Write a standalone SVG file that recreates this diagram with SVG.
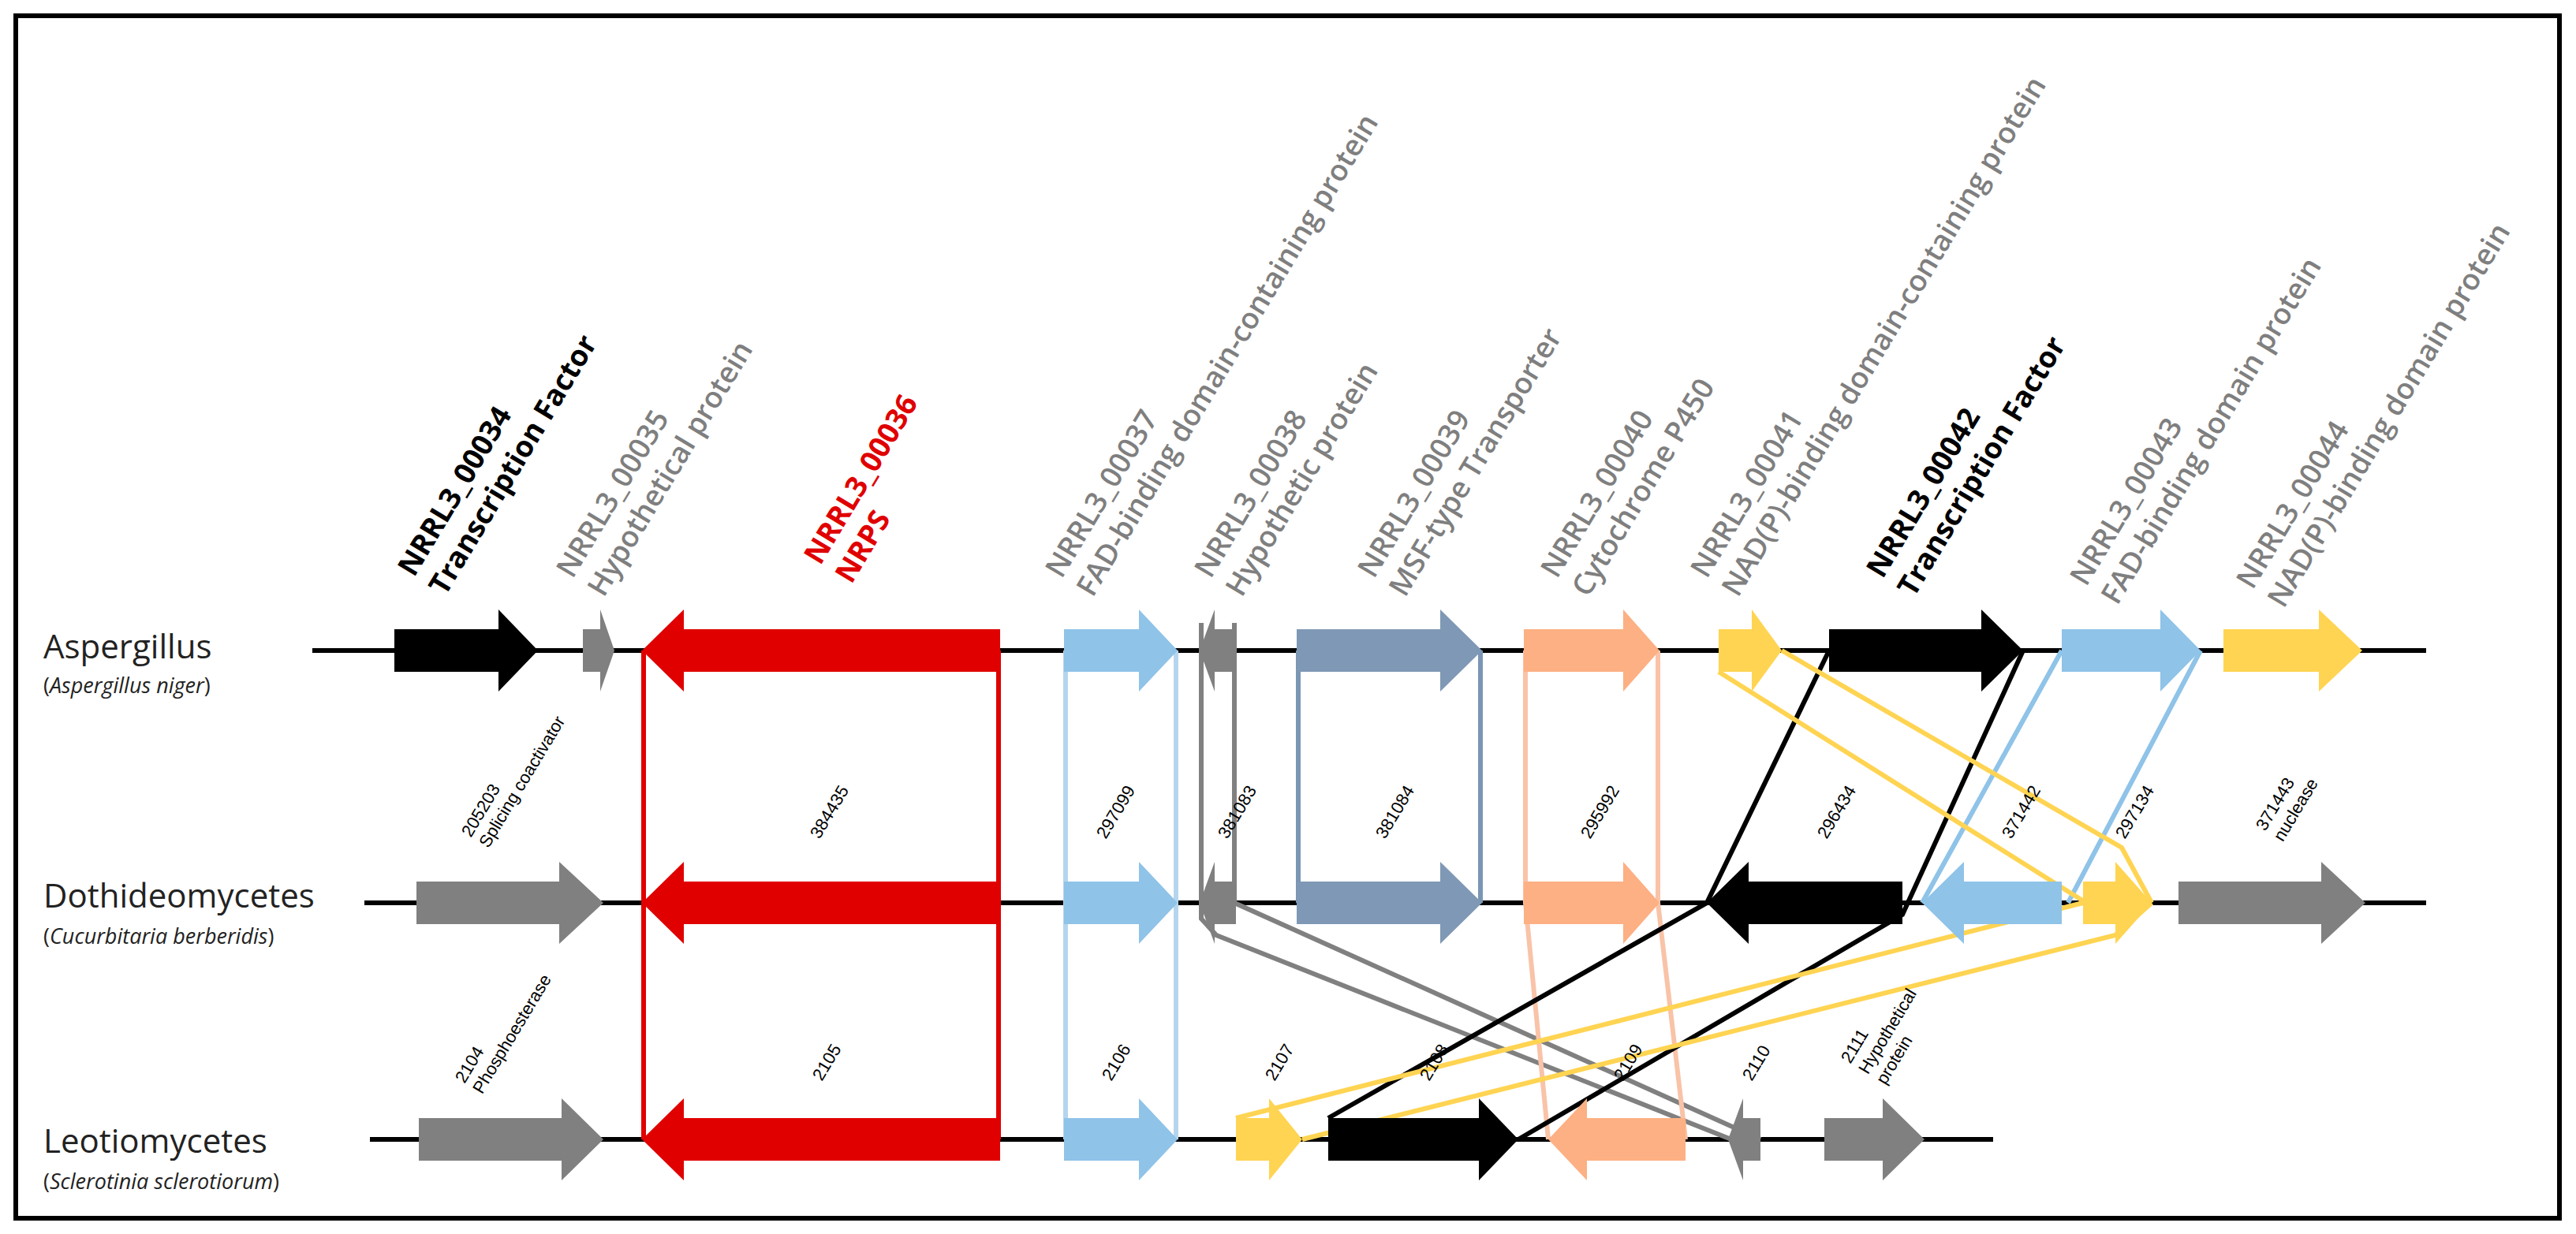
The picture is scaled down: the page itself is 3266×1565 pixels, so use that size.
<svg xmlns="http://www.w3.org/2000/svg" width="3266" height="1565" viewBox="0 0 3266 1565">
<style>
.bd{fill:none;stroke:#000;stroke-width:6}
.ln{stroke:#000;stroke-width:6}
.sp{font-family:"Open Sans",sans-serif;font-size:42px;fill:#222}
.sub{font-family:"Open Sans",sans-serif;font-size:27px;fill:#222}
.tl{font-family:"Open Sans",sans-serif;font-size:37px;font-weight:600;fill:#7f7f7f}
.tb{font-family:"Open Sans",sans-serif;font-size:37px;font-weight:bold;fill:#000}
.tr{font-family:"Open Sans",sans-serif;font-size:37px;font-weight:bold;fill:#e00000}
.sm{font-family:"Liberation Sans",sans-serif;font-size:22px;fill:#000}
.c{fill:none;stroke-width:6}
</style>
<rect x="20" y="20" width="3225" height="1525" class="bd"/>
<g id="tracks">
<line x1="396" y1="825" x2="3076" y2="825" class="ln"/>
<line x1="462" y1="1145" x2="3076" y2="1145" class="ln"/>
<line x1="469" y1="1445" x2="2527" y2="1445" class="ln"/>
</g>
<g id="species">
<text class="sp" x="55" y="835">Aspergillus</text>
<text class="sub" x="55" y="879">(<tspan font-style="italic">Aspergillus niger</tspan>)</text>
<text class="sp" x="55" y="1151">Dothideomycetes</text>
<text class="sub" x="55" y="1197">(<tspan font-style="italic">Cucurbitaria berberidis</tspan>)</text>
<text class="sp" x="55" y="1462">Leotiomycetes</text>
<text class="sub" x="55" y="1508">(<tspan font-style="italic">Sclerotinia sclerotiorum</tspan>)</text>
</g>
<g id="connectors">
<line x1="816" y1="825" x2="816" y2="1445" class="c" stroke="#e00000"/>
<line x1="1266" y1="825" x2="1266" y2="1445" class="c" stroke="#e00000"/>
<line x1="1351" y1="825" x2="1351" y2="1445" class="c" stroke="#b5d5ee"/>
<line x1="1491" y1="825" x2="1491" y2="1445" class="c" stroke="#b5d5ee"/>
<polyline points="1523,790 1523,1165 1542,1186 2195,1445" class="c" stroke="#808080"/>
<polyline points="1565,790 1565,1145 2232,1445" class="c" stroke="#808080"/>
<line x1="1646" y1="825" x2="1646" y2="1145" class="c" stroke="#7a96b4"/>
<line x1="1877" y1="825" x2="1877" y2="1145" class="c" stroke="#7a96b4"/>
<polyline points="1934,825 1934,1145 1963,1445" class="c" stroke="#f9c3a8"/>
<polyline points="2102,825 2102,1145 2137,1445" class="c" stroke="#f9c3a8"/>
<polyline points="2319,825 2164,1145 1684,1418" class="c" stroke="#000"/>
<polyline points="2565,825 2412,1160 1925,1445" class="c" stroke="#000"/>
<line x1="2614" y1="825" x2="2437" y2="1145" class="c" stroke="#8fc3e8"/>
<line x1="2790" y1="825" x2="2622" y2="1145" class="c" stroke="#8fc3e8"/>
<polyline points="2259,825 2690,1075 2728,1145" class="c" stroke="#ffd452"/>
<line x1="2179" y1="852" x2="2645" y2="1145" class="c" stroke="#ffd452"/>
<polyline points="2728,1145 2682,1186 1651,1445" class="c" stroke="#ffd452"/>
<line x1="2641" y1="1145" x2="1567" y2="1418" class="c" stroke="#ffd452"/>
</g>
<g id="genes-aspergillus">
<polygon fill="#000" points="500,798 632,798 632,773 682,825 632,877 632,852 500,852"/>
<polygon fill="#808080" points="739,798 761,798 761,773 779,825 761,877 761,852 739,852"/>
<polygon fill="#e00000" points="814,825 867,773 867,798 1268,798 1268,852 867,852 867,877"/>
<polygon fill="#8fc3e8" points="1349,798 1444,798 1444,773 1493,825 1444,877 1444,852 1349,852"/>
<polygon fill="#808080" points="1521,825 1540,773 1540,798 1567,798 1567,852 1540,852 1540,877"/>
<polygon fill="#7f98b5" points="1644,798 1826,798 1826,773 1879,825 1826,877 1826,852 1644,852"/>
<polygon fill="#fdb083" points="1932,798 2058,798 2058,773 2104,825 2058,877 2058,852 1932,852"/>
<polygon fill="#ffd452" points="2179,798 2221,798 2221,773 2259,825 2221,877 2221,852 2179,852"/>
<polygon fill="#000" points="2319,798 2512,798 2512,773 2565,825 2512,877 2512,852 2319,852"/>
<polygon fill="#8fc3e8" points="2614,798 2739,798 2739,773 2790,825 2739,877 2739,852 2614,852"/>
<polygon fill="#ffd452" points="2819,798 2940,798 2940,773 2995,825 2940,877 2940,852 2819,852"/>
</g>
<g id="genes-dothideomycetes">
<polygon fill="#808080" points="528,1118 709,1118 709,1093 765,1145 709,1197 709,1172 528,1172"/>
<polygon fill="#e00000" points="814,1145 867,1093 867,1118 1268,1118 1268,1172 867,1172 867,1197"/>
<polygon fill="#8fc3e8" points="1349,1118 1444,1118 1444,1093 1493,1145 1444,1197 1444,1172 1349,1172"/>
<polygon fill="#808080" points="1521,1145 1540,1093 1540,1118 1567,1118 1567,1172 1540,1172 1540,1197"/>
<polygon fill="#7f98b5" points="1644,1118 1826,1118 1826,1093 1879,1145 1826,1197 1826,1172 1644,1172"/>
<polygon fill="#fdb083" points="1932,1118 2058,1118 2058,1093 2104,1145 2058,1197 2058,1172 1932,1172"/>
<polygon fill="#000" points="2164,1145 2217,1093 2217,1118 2412,1118 2412,1172 2217,1172 2217,1197"/>
<polygon fill="#8fc3e8" points="2437,1145 2490,1093 2490,1118 2614,1118 2614,1172 2490,1172 2490,1197"/>
<polygon fill="#ffd452" points="2641,1118 2682,1118 2682,1093 2728,1145 2682,1197 2682,1172 2641,1172"/>
<polygon fill="#808080" points="2762,1118 2943,1118 2943,1093 2999,1145 2943,1197 2943,1172 2762,1172"/>
</g>
<g id="genes-leotiomycetes">
<polygon fill="#808080" points="531,1418 712,1418 712,1393 765,1445 712,1497 712,1472 531,1472"/>
<polygon fill="#e00000" points="814,1445 867,1393 867,1418 1268,1418 1268,1472 867,1472 867,1497"/>
<polygon fill="#8fc3e8" points="1349,1418 1444,1418 1444,1393 1493,1445 1444,1497 1444,1472 1349,1472"/>
<polygon fill="#ffd452" points="1567,1418 1609,1418 1609,1393 1651,1445 1609,1497 1609,1472 1567,1472"/>
<polygon fill="#000" points="1684,1418 1875,1418 1875,1393 1925,1445 1875,1497 1875,1472 1684,1472"/>
<polygon fill="#fdb083" points="1963,1445 2012,1393 2012,1418 2137,1418 2137,1472 2012,1472 2012,1497"/>
<polygon fill="#808080" points="2191,1445 2210,1393 2210,1418 2232,1418 2232,1472 2210,1472 2210,1497"/>
<polygon fill="#808080" points="2313,1418 2387,1418 2387,1393 2440,1445 2387,1497 2387,1472 2313,1472"/>
</g>
<g id="labels-top">
<text class="tb" transform="translate(525,733) rotate(-59)">NRRL3_00034<tspan x="0" dy="46">Transcription Factor</tspan></text>
<text class="tl" transform="translate(726,735) rotate(-59)">NRRL3_00035<tspan x="0" dy="46">Hypothetical protein</tspan></text>
<text class="tr" transform="translate(1040,718) rotate(-59)">NRRL3_00036<tspan x="0" dy="46">NRPS</tspan></text>
<text class="tl" transform="translate(1346,735) rotate(-59)">NRRL3_00037<tspan x="0" dy="46">FAD-binding domain-containing protein</tspan></text>
<text class="tl" transform="translate(1535,735) rotate(-59)">NRRL3_00038<tspan x="0" dy="46">Hypothetic protein</tspan></text>
<text class="tl" transform="translate(1742,735) rotate(-59)">NRRL3_00039<tspan x="0" dy="46">MSF-type Transporter</tspan></text>
<text class="tl" transform="translate(1974,735) rotate(-59)">NRRL3_00040<tspan x="0" dy="46">Cytochrome P450</tspan></text>
<text class="tl" transform="translate(2164,735) rotate(-59)">NRRL3_00041<tspan x="0" dy="46">NAD(P)-binding domain-containing protein</tspan></text>
<text class="tb" transform="translate(2387,735) rotate(-59)">NRRL3_00042<tspan x="0" dy="46">Transcription Factor</tspan></text>
<text class="tl" transform="translate(2645,745) rotate(-59)">NRRL3_00043<tspan x="0" dy="46">FAD-binding domain protein</tspan></text>
<text class="tl" transform="translate(2856,749) rotate(-59)">NRRL3_00044<tspan x="0" dy="46">NAD(P)-binding domain protein</tspan></text>
</g>
<g id="labels-small">
<text class="sm" transform="translate(597,1063) rotate(-59)">205203<tspan x="0" dy="26">Splicing coactivator</tspan></text>
<text class="sm" transform="translate(1039,1065) rotate(-59)">384435</text>
<text class="sm" transform="translate(1402,1065) rotate(-59)">297099</text>
<text class="sm" transform="translate(1556,1065) rotate(-59)">381083</text>
<text class="sm" transform="translate(1756,1065) rotate(-59)">381084</text>
<text class="sm" transform="translate(2016,1065) rotate(-59)">295992</text>
<text class="sm" transform="translate(2316,1065) rotate(-59)">296434</text>
<text class="sm" transform="translate(2550,1065) rotate(-59)">371442</text>
<text class="sm" transform="translate(2694,1065) rotate(-59)">297134</text>
<text class="sm" transform="translate(2872,1055) rotate(-59)">371443<tspan x="0" dy="26">nuclease</tspan></text>
<text class="sm" transform="translate(589,1375) rotate(-59)">2104<tspan x="0" dy="26">Phosphoesterase</tspan></text>
<text class="sm" transform="translate(1042,1372) rotate(-59)">2105</text>
<text class="sm" transform="translate(1409,1372) rotate(-59)">2106</text>
<text class="sm" transform="translate(1616,1372) rotate(-59)">2107</text>
<text class="sm" transform="translate(1812,1372) rotate(-59)">2108</text>
<text class="sm" transform="translate(2058,1372) rotate(-59)">2109</text>
<text class="sm" transform="translate(2221,1372) rotate(-59)">2110</text>
<text class="sm" transform="translate(2346,1350) rotate(-59)">2111<tspan x="0" dy="26">Hypothetical</tspan><tspan x="0" dy="26">protein</tspan></text>
</g>
</svg>
